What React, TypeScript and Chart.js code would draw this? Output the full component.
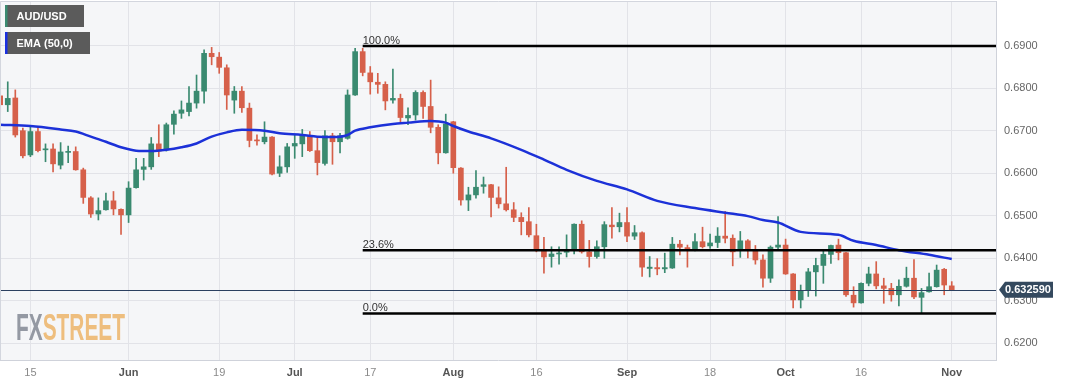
import React, { useEffect, useRef } from "react";
import { Chart, registerables } from "chart.js";

Chart.register(...registerables);

// ---- Data (daily AUD/USD candles, trading-day index 0 = May 9) ----
const opens = [
  0.6782, 0.6761, 0.6777, 0.6700, 0.6643, 0.6698, 0.6655, 0.6657, 0.6619, 0.6649,
  0.6651, 0.6608, 0.6542, 0.6504, 0.6514, 0.6535, 0.6515, 0.6502, 0.6566, 0.6609,
  0.6615, 0.6669, 0.6655, 0.6715, 0.6741, 0.6745, 0.6765, 0.6793, 0.6882, 0.6873,
  0.6848, 0.6772, 0.6793, 0.6753, 0.6678, 0.6674, 0.6685, 0.6600, 0.6615, 0.6664,
  0.6669, 0.6686, 0.6653, 0.6623, 0.6688, 0.6674, 0.6682, 0.6784, 0.6886, 0.6836,
  0.6814, 0.6809, 0.6772, 0.6776, 0.6730, 0.6737, 0.6790, 0.6757, 0.6708, 0.6648,
  0.6721, 0.6612, 0.6537, 0.6549, 0.6569, 0.6573, 0.6542, 0.6528, 0.6514, 0.6496,
  0.6486, 0.6453, 0.6420, 0.6404, 0.6410, 0.6414, 0.6419, 0.6480, 0.6415, 0.6404,
  0.6427, 0.6478, 0.6474, 0.6484, 0.6452, 0.6460, 0.6376, 0.6378, 0.6375, 0.6377,
  0.6433, 0.6425, 0.6419, 0.6439, 0.6429, 0.6437, 0.6452, 0.6447, 0.6418, 0.6441,
  0.6419, 0.6396, 0.6353, 0.6426, 0.6431, 0.6363, 0.6302, 0.6324, 0.6368, 0.6383,
  0.6409, 0.6431, 0.6413, 0.6313, 0.6295, 0.6341, 0.6363, 0.6335, 0.6329, 0.6314,
  0.6334, 0.6353, 0.6308, 0.6321, 0.6333, 0.6374, 0.6335,
];
const highs = [
  0.6796, 0.6815, 0.6796, 0.6706, 0.6710, 0.6710, 0.6669, 0.6669, 0.6672, 0.6664,
  0.6662, 0.6612, 0.6545, 0.6542, 0.6553, 0.6557, 0.6516, 0.6580, 0.6635, 0.6635,
  0.6684, 0.6714, 0.6718, 0.6747, 0.6770, 0.6804, 0.6831, 0.6890, 0.6896, 0.6884,
  0.6855, 0.6804, 0.6804, 0.6765, 0.6690, 0.6721, 0.6686, 0.6641, 0.6670, 0.6690,
  0.6703, 0.6698, 0.6686, 0.6700, 0.6694, 0.6694, 0.6796, 0.6894, 0.6894, 0.6851,
  0.6835, 0.6815, 0.6845, 0.6786, 0.6754, 0.6794, 0.6794, 0.6819, 0.6714, 0.6739,
  0.6722, 0.6613, 0.6567, 0.6606, 0.6591, 0.6574, 0.6568, 0.6614, 0.6531, 0.6507,
  0.6519, 0.6480, 0.6449, 0.6427, 0.6427, 0.6455, 0.6481, 0.6488, 0.6442, 0.6441,
  0.6486, 0.6519, 0.6506, 0.6519, 0.6477, 0.6462, 0.6404, 0.6399, 0.6412, 0.6449,
  0.6442, 0.6431, 0.6458, 0.6473, 0.6457, 0.6472, 0.6510, 0.6455, 0.6463, 0.6444,
  0.6430, 0.6408, 0.6429, 0.6498, 0.6445, 0.6364, 0.6337, 0.6376, 0.6400, 0.6420,
  0.6431, 0.6445, 0.6414, 0.6333, 0.6342, 0.6379, 0.6392, 0.6353, 0.6341, 0.6349,
  0.6379, 0.6397, 0.6329, 0.6365, 0.6384, 0.6376, 0.6345,
];
const lows = [
  0.6744, 0.6745, 0.6685, 0.6636, 0.6639, 0.6650, 0.6627, 0.6603, 0.6610, 0.6625,
  0.6607, 0.6529, 0.6496, 0.6490, 0.6513, 0.6502, 0.6456, 0.6484, 0.6565, 0.6584,
  0.6609, 0.6639, 0.6652, 0.6692, 0.6729, 0.6735, 0.6753, 0.6765, 0.6855, 0.6835,
  0.6750, 0.6741, 0.6743, 0.6662, 0.6666, 0.6669, 0.6596, 0.6592, 0.6602, 0.6635,
  0.6639, 0.6651, 0.6596, 0.6619, 0.6621, 0.6648, 0.6680, 0.6783, 0.6829, 0.6786,
  0.6788, 0.6749, 0.6765, 0.6721, 0.6714, 0.6725, 0.6729, 0.6695, 0.6622, 0.6647,
  0.6600, 0.6525, 0.6512, 0.6541, 0.6553, 0.6497, 0.6518, 0.6511, 0.6486, 0.6455,
  0.6450, 0.6415, 0.6365, 0.6379, 0.6386, 0.6403, 0.6410, 0.6412, 0.6379, 0.6400,
  0.6400, 0.6447, 0.6462, 0.6439, 0.6444, 0.6357, 0.6356, 0.6361, 0.6366, 0.6376,
  0.6408, 0.6379, 0.6417, 0.6424, 0.6423, 0.6425, 0.6436, 0.6382, 0.6402, 0.6401,
  0.6386, 0.6332, 0.6343, 0.6419, 0.6362, 0.6283, 0.6283, 0.6310, 0.6311, 0.6341,
  0.6388, 0.6396, 0.6310, 0.6285, 0.6294, 0.6335, 0.6328, 0.6294, 0.6299, 0.6288,
  0.6332, 0.6305, 0.6270, 0.6320, 0.6332, 0.6314, 0.6325,
];
const closes = [
  0.6761, 0.6776, 0.6690, 0.6641, 0.6698, 0.6653, 0.6657, 0.6622, 0.6650, 0.6650,
  0.6608, 0.6543, 0.6504, 0.6512, 0.6535, 0.6516, 0.6502, 0.6565, 0.6608, 0.6615,
  0.6669, 0.6652, 0.6714, 0.6739, 0.6749, 0.6765, 0.6793, 0.6882, 0.6874, 0.6849,
  0.6784, 0.6793, 0.6754, 0.6677, 0.6676, 0.6685, 0.6598, 0.6615, 0.6662, 0.6670,
  0.6688, 0.6653, 0.6625, 0.6688, 0.6674, 0.6688, 0.6784, 0.6886, 0.6837, 0.6815,
  0.6809, 0.6770, 0.6776, 0.6731, 0.6736, 0.6790, 0.6757, 0.6708, 0.6648, 0.6716,
  0.6613, 0.6537, 0.6549, 0.6567, 0.6573, 0.6543, 0.6528, 0.6514, 0.6496, 0.6486,
  0.6455, 0.6420, 0.6403, 0.6410, 0.6412, 0.6419, 0.6480, 0.6415, 0.6404, 0.6427,
  0.6479, 0.6474, 0.6484, 0.6452, 0.6460, 0.6379, 0.6379, 0.6375, 0.6378, 0.6433,
  0.6426, 0.6421, 0.6439, 0.6427, 0.6436, 0.6452, 0.6447, 0.6415, 0.6441, 0.6422,
  0.6396, 0.6353, 0.6426, 0.6431, 0.6363, 0.6302, 0.6324, 0.6368, 0.6383, 0.6409,
  0.6430, 0.6413, 0.6314, 0.6295, 0.6341, 0.6363, 0.6335, 0.6329, 0.6314, 0.6334,
  0.6353, 0.6309, 0.6319, 0.6333, 0.6372, 0.6337, 0.63259,
];

// EMA (50) read at sample trading-day indices
const emaIndex = [
  0, 4, 8, 10, 12, 14, 16, 18, 20, 22, 24, 26, 28, 30, 32, 35, 37, 40, 42, 44,
  46, 47, 49, 52, 54, 57, 59, 60, 62, 65, 69, 72, 75, 79, 83, 87, 92, 96, 99, 101,
  103, 106, 111, 113, 116, 119, 123, 126,
];
const emaValues = [
  0.6714, 0.6711, 0.6703, 0.6698, 0.6686, 0.6674, 0.6661, 0.6653, 0.6652, 0.6655,
  0.6661, 0.6670, 0.6686, 0.6696, 0.6702, 0.6700, 0.6694, 0.6690, 0.6686, 0.6685,
  0.6690, 0.6700, 0.6708, 0.6716, 0.6719, 0.6723, 0.6719, 0.6711, 0.6698, 0.6682,
  0.6655, 0.6632, 0.6608, 0.6582, 0.6562, 0.6535, 0.6518, 0.6507, 0.6499, 0.6490,
  0.6484, 0.6462, 0.6455, 0.6441, 0.6431, 0.6419, 0.6408, 0.6398,
];

const xTickIndex = [4, 17, 29, 39, 49, 60, 71, 83, 94, 104, 114, 126];
const xTickLabels = ["15", "Jun", "19", "Jul", "17", "Aug", "16", "Sep", "18", "Oct", "16", "Nov"];
const yTickValues = [0.62, 0.63, 0.64, 0.65, 0.66, 0.67, 0.68, 0.69];

const fibLevels = [0.6899, 0.6419, 0.627];
const fibLabels = ["100.0%", "23.6%", "0.0%"];
const fibStartIndex = 48;

const lastPrice = 0.63259;
const seriesName = "AUD/USD";
const emaName = "EMA (50,0)";

const FONT = "'Liberation Sans', Arial, sans-serif";
const UP = "#3a8a70";
const DOWN = "#d6604a";

export default function App() {
  const canvasRef = useRef<HTMLCanvasElement | null>(null);

  useEffect(() => {
    document.body.style.margin = "0";
    const canvas = canvasRef.current;
    if (!canvas) return;

    const colors = opens.map((o, i) => (closes[i] >= o ? UP : DOWN));

    const overlay = {
      id: "overlay",
      beforeDraw(chart: any) {
        const { ctx, chartArea } = chart;
        ctx.save();
        ctx.fillStyle = "#f5f6f8";
        ctx.fillRect(chartArea.left, chartArea.top, chartArea.right - chartArea.left, chartArea.bottom - chartArea.top);
        ctx.restore();
      },
      beforeDatasetsDraw(chart: any) {
        const { ctx } = chart;
        ctx.save();
        ctx.font = `bold 36px ${FONT}`;
        ctx.textBaseline = "alphabetic";
        ctx.translate(16, 340);
        ctx.scale(0.58, 1);
        ctx.fillStyle = "#9499a3";
        ctx.fillText("FX", 0, 0);
        const w = ctx.measureText("FX").width;
        ctx.fillStyle = "#eebe7e";
        ctx.fillText("STREET", w, 0);
        ctx.restore();
      },
      afterDatasetsDraw(chart: any) {
        const { ctx, chartArea, scales } = chart;
        const xs = scales.x;
        const ys = scales.y;
        ctx.save();
        // current price line
        const py = Math.round(ys.getPixelForValue(lastPrice)) + 0.5;
        ctx.strokeStyle = "#2b4060";
        ctx.lineWidth = 1;
        ctx.beginPath();
        ctx.moveTo(chartArea.left, py);
        ctx.lineTo(chartArea.right, py);
        ctx.stroke();
        // fibonacci levels
        const fx = xs.getPixelForValue(fibStartIndex);
        fibLevels.forEach((lvl, i) => {
          const y = ys.getPixelForValue(lvl);
          ctx.strokeStyle = "#000";
          ctx.lineWidth = 2.5;
          ctx.beginPath();
          ctx.moveTo(fx, y);
          ctx.lineTo(chartArea.right, y);
          ctx.stroke();
          ctx.fillStyle = "#333";
          ctx.font = `11px ${FONT}`;
          ctx.textAlign = "left";
          ctx.textBaseline = "alphabetic";
          ctx.fillText(fibLabels[i], fx, y - 2);
        });
        ctx.restore();
      },
      afterDraw(chart: any) {
        const { ctx, chartArea, scales } = chart;
        ctx.save();
        // plot border top/left
        ctx.strokeStyle = "#d3d6de";
        ctx.lineWidth = 1;
        ctx.beginPath();
        ctx.moveTo(chartArea.left + 0.5, chartArea.bottom);
        ctx.lineTo(chartArea.left + 0.5, chartArea.top + 0.5);
        ctx.lineTo(chartArea.right, chartArea.top + 0.5);
        ctx.stroke();

        // price tag
        const y = scales.y.getPixelForValue(lastPrice);
        ctx.fillStyle = "#34495e";
        ctx.beginPath();
        ctx.moveTo(999, y);
        ctx.lineTo(1005, y - 8);
        ctx.lineTo(1053, y - 8);
        ctx.lineTo(1053, y + 8);
        ctx.lineTo(1005, y + 8);
        ctx.closePath();
        ctx.fill();
        ctx.fillStyle = "#fff";
        ctx.font = `bold 11px ${FONT}`;
        ctx.textAlign = "left";
        ctx.textBaseline = "middle";
        ctx.fillText(lastPrice.toFixed(6), 1005, y + 0.5);

        // legend boxes
        const boxes = [
          { label: seriesName, y: 5, w: 79, stripe: UP },
          { label: emaName, y: 32, w: 85, stripe: "#1a30e0" },
        ];
        boxes.forEach((b) => {
          ctx.fillStyle = "#5b5b5b";
          ctx.fillRect(5, b.y, b.w, 22);
          ctx.fillStyle = b.stripe;
          ctx.fillRect(5, b.y, 2.5, 22);
          ctx.fillStyle = "#fff";
          ctx.font = `bold 11px ${FONT}`;
          ctx.textBaseline = "middle";
          ctx.fillText(b.label, 16.5, b.y + 11.5);
        });
        ctx.restore();
      },
    };

    const chart = new Chart(canvas, {
      type: "bar",
      data: {
        datasets: [
          {
            type: "line",
            label: emaName,
            data: emaIndex.map((x, i) => ({ x, y: emaValues[i] })),
            borderColor: "#1c31d8",
            borderWidth: 2.5,
            pointRadius: 0,
            cubicInterpolationMode: "monotone",
            order: 0,
          } as any,
          {
            type: "bar",
            label: seriesName,
            data: opens.map((o, i) => ({ x: i, y: [o, closes[i]] })),
            backgroundColor: colors,
            borderWidth: 0,
            barThickness: 5,
            minBarLength: 1,
            grouped: false,
            order: 1,
          } as any,
          {
            type: "bar",
            label: "wicks",
            data: lows.map((l, i) => ({ x: i, y: [l, highs[i]] })),
            backgroundColor: colors,
            borderWidth: 0,
            barThickness: 1,
            grouped: false,
            order: 2,
          } as any,
        ],
      },
      options: {
        animation: false,
        responsive: true,
        maintainAspectRatio: false,
        layout: { padding: { left: 0, right: 0, top: 1, bottom: 0 } },
        plugins: { legend: { display: false }, tooltip: { enabled: false } },
        scales: {
          x: {
            type: "linear",
            min: -0.026,
            max: 131.86,
            offset: false,
            afterBuildTicks: (s: any) => {
              s.ticks = xTickIndex.map((v) => ({ value: v }));
            },
            afterFit: (s: any) => {
              s.height = 26;
              s.paddingLeft = 0;
              s.paddingRight = 0;
            },
            ticks: {
              autoSkip: false,
              maxRotation: 0,
              padding: 6.4,
              callback: (_v: any, i: number) => xTickLabels[i] ?? "",
              color: (c: any) => (isNaN(Number(xTickLabels[c.index])) ? "#555" : "#8a8a8a"),
              font: (c: any) => ({
                family: FONT,
                size: 11,
                weight: isNaN(Number(xTickLabels[c.index])) ? "bold" : "normal",
              }),
            },
            grid: { color: "#e2e3e8", drawTicks: false, offset: false },
            border: { color: "#cfd2da" },
          } as any,
          y: {
            type: "linear",
            position: "right",
            min: 0.61606,
            max: 0.70051,
            beginAtZero: false,
            afterBuildTicks: (s: any) => {
              s.ticks = yTickValues.map((v) => ({ value: v }));
            },
            afterFit: (s: any) => {
              s.width = 71;
              s.paddingTop = 0;
              s.paddingBottom = 0;
            },
            ticks: {
              padding: 8,
              color: "#666",
              font: { family: FONT, size: 11 },
              callback: (v: any) => Number(v).toFixed(4),
            },
            grid: { color: "#e2e3e8", drawTicks: false },
            border: { color: "#cfd2da" },
          } as any,
        },
      } as any,
      plugins: [overlay],
    });

    return () => chart.destroy();
  }, []);

  return (
    <div style={{ position: "relative", width: 1067, height: 386, background: "#fff" }}>
      <canvas ref={canvasRef} />
    </div>
  );
}
